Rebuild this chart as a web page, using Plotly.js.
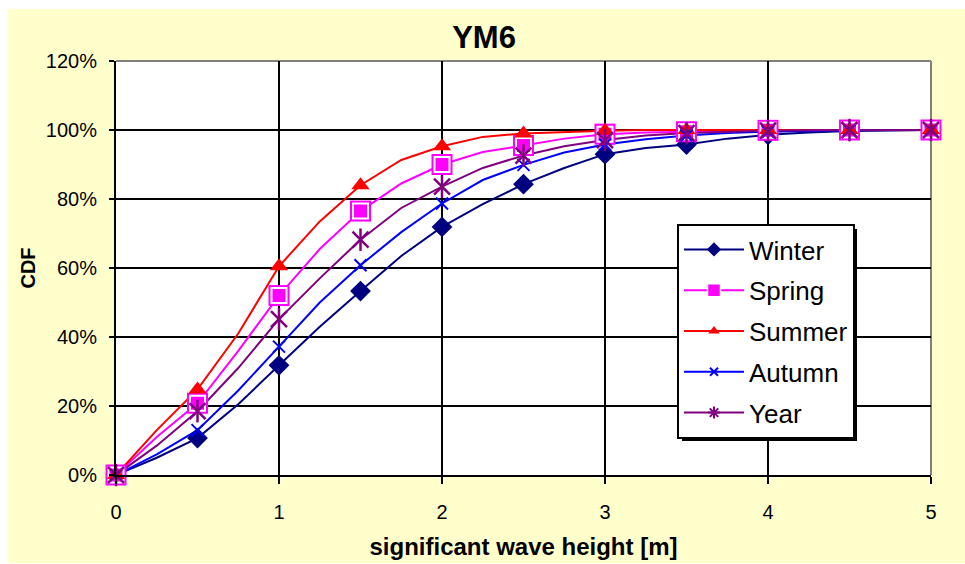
<!DOCTYPE html>
<html>
<head>
<meta charset="utf-8">
<script src="https://cdn.plot.ly/plotly-3.0.1.min.js"></script>
<style>html,body{margin:0;padding:0;background:#fff;}#chart{width:965px;height:564px;}</style>
</head>
<body>
<div id="chart"></div>
<script>
// significant wave height [m]
var hs = [0,0.25,0.5,0.75,1,1.25,1.5,1.75,2,2.25,2.5,2.75,3,3.25,3.5,3.75,4,4.25,4.5,4.75,5];
// CDF values in percent
var winter = [0,5,10.7,20.5,31.8,43,53.3,63.5,71.9,78.5,84.3,89,93,94.8,95.8,97.5,98.6,99.3,99.7,99.9,100];
var spring = [0,11,20.8,36,52,65.5,76.5,84.5,90,93.6,95.5,97.5,98.8,99.3,99.5,99.8,99.9,100,100,100,100];
var summer = [0,13,24.8,41,60.5,73.5,84,91.3,95.3,98,99,99.5,99.8,100,100,100,100,100,100,100,100];
var autumn = [0,6,13,24.5,37.2,50,60.8,70.4,78.7,85.5,89.9,93.5,95.8,97.3,98.4,99.1,99.5,99.8,99.9,100,100];
var year   = [0,8.5,18.5,31,45.2,57,68.2,77.4,83.6,89,92.6,95.3,97.1,98.4,99.1,99.5,99.8,99.9,100,100,100];
var seriesNames = ['Winter','Spring','Summer','Autumn','Year'];
var xTickVals = [0,1,2,3,4,5];
var yTickVals = [0,20,40,60,80,100,120];

var FONT = 'Liberation Sans, Arial, sans-serif';
var colors = {Winter:'#000080', Spring:'#FF00FF', Summer:'#FF0000', Autumn:'#0000FF', Year:'#800080'};
var data = {Winter:winter, Spring:spring, Summer:summer, Autumn:autumn, Year:year};

function markerPts(arr){
  var xs=[], ys=[];
  for (var i=0;i<hs.length;i++){ if (Math.abs(hs[i]*2-Math.round(hs[i]*2))<1e-9){ xs.push(hs[i]); ys.push(arr[i]); } }
  return {x:xs, y:ys};
}

var traces = [];
// lines
seriesNames.forEach(function(n){
  traces.push({x:hs, y:data[n], mode:'lines', line:{color:colors[n], width:2}, showlegend:false, hoverinfo:'skip', legendgroup:n});
});
// markers
function mk(n, marker){
  var p = markerPts(data[n]);
  traces.push({x:p.x, y:p.y, mode:'markers', marker:marker, showlegend:false, cliponaxis:false, legendgroup:n});
}
mk('Winter', {symbol:'diamond', size:16, color:colors.Winter, line:{width:0}});
mk('Spring', {symbol:'square', size:21, color:colors.Spring, line:{width:0}});
mk('Spring', {symbol:'square', size:15, color:colors.Spring, line:{width:2, color:'#FFFFFF'}});
mk('Summer', {symbol:'triangle-up', size:16, color:colors.Summer, line:{width:0}});
mk('Autumn', {symbol:'x-thin', size:12, color:colors.Autumn, line:{width:2, color:colors.Autumn}});
mk('Year', {symbol:'x-thin', size:16, color:colors.Year, line:{width:2.5, color:colors.Year}});
mk('Year', {symbol:'line-ns', size:16, color:colors.Year, line:{width:2.5, color:colors.Year}});

// legend entries
var legMarkers = {
  Winter:{symbol:'diamond', size:11, color:colors.Winter, line:{width:0}},
  Spring:{symbol:'square', size:13, color:colors.Spring, line:{width:1.5, color:'#FFFFFF'}},
  Summer:{symbol:'triangle-up', size:10, color:colors.Summer, line:{width:0}},
  Autumn:{symbol:'x-thin', size:8, color:colors.Autumn, line:{width:2, color:colors.Autumn}},
  Year:{symbol:'asterisk', size:10, color:colors.Year, line:{width:2, color:colors.Year}}
};
seriesNames.forEach(function(n){
  traces.push({x:[null], y:[null], name:n, mode:'lines+markers', line:{color:colors[n], width:2}, marker:legMarkers[n], legendgroup:n});
});

var L=116, R=931, T=61, B=475;
function px2x(p){return (p-L)/(R-L);}
function py2y(p){return (B-p)/(B-T);}

var layout = {
  width:965, height:564,
  margin:{l:116, r:34, t:61, b:89, pad:0},
  paper_bgcolor:'#FFFFFF',
  plot_bgcolor:'rgba(0,0,0,0)',
  font:{family:FONT, color:'#000000', size:20},
  title:{text:'<b>YM6</b>', font:{family:FONT, size:31, color:'#000'}, xref:'container', x:484/965, xanchor:'center', yref:'container', y:1-37/564, yanchor:'middle'},
  xaxis:{range:[0,5], tickvals:xTickVals, ticktext:xTickVals.map(String), showgrid:true, gridcolor:'#000', gridwidth:2,
    showline:true, linecolor:'#000', linewidth:2, ticks:'outside', ticklen:7, tickwidth:2, tickcolor:'#000',
    zeroline:false, tickfont:{size:20}, ticklabelstandoff:11,
    title:{text:'<b>significant wave height [m]</b>', font:{size:24}, standoff:16}},
  yaxis:{range:[0,120], tickvals:yTickVals, ticktext:yTickVals.map(function(v){return v+'%';}), showgrid:true, gridcolor:'#000', gridwidth:2,
    showline:true, linecolor:'#000', linewidth:2, ticks:'outside', ticklen:5, tickwidth:2, tickcolor:'#000',
    zeroline:false, tickfont:{size:20}, ticklabelstandoff:8,
    title:{text:'<b>CDF</b>', font:{size:20}, standoff:5}},
  legend:{x:px2x(677), y:py2y(224), xanchor:'left', yanchor:'top', bgcolor:'#FFFFFF', bordercolor:'#000', borderwidth:2,
    font:{size:26}, tracegroupgap:4, itemwidth:60, traceorder:'grouped'},
  shapes:[
    {type:'rect', xref:'paper', yref:'paper', x0:px2x(8), x1:px2x(966), y0:py2y(563), y1:py2y(9), fillcolor:'#FFFFCC', line:{width:0}, layer:'below'},
    {type:'rect', xref:'paper', yref:'paper', x0:0, x1:1, y0:0, y1:1, fillcolor:'#FFFFFF', line:{width:0}, layer:'below'},
    {type:'line', xref:'paper', yref:'paper', x0:0, x1:1, y0:1, y1:1, line:{color:'#808080', width:2}, layer:'between'},
    {type:'line', xref:'paper', yref:'paper', x0:1, x1:1, y0:0, y1:1, line:{color:'#808080', width:2}, layer:'between'}
  ],
  showlegend:true
};

Plotly.newPlot('chart', traces, layout, {staticPlot:true}).then(function(gd){
  // legend shadow sized from the drawn legend box
  var bg = gd.querySelector('.legend .bg');
  if (!bg) return;
  var r = bg.getBoundingClientRect();
  var c = gd.getBoundingClientRect();
  var x0 = r.left - c.left + 4, x1 = r.right - c.left + 3;
  var y0 = r.top - c.top + 4, y1 = r.bottom - c.top + 3;
  var shapes = gd.layout.shapes.slice();
  shapes.push({type:'rect', xref:'paper', yref:'paper', x0:px2x(x0), x1:px2x(x1), y0:py2y(y1), y1:py2y(y0), fillcolor:'#000', line:{width:0}, layer:'above'});
  return Plotly.relayout(gd, {shapes:shapes});
});
</script>
</body>
</html>
